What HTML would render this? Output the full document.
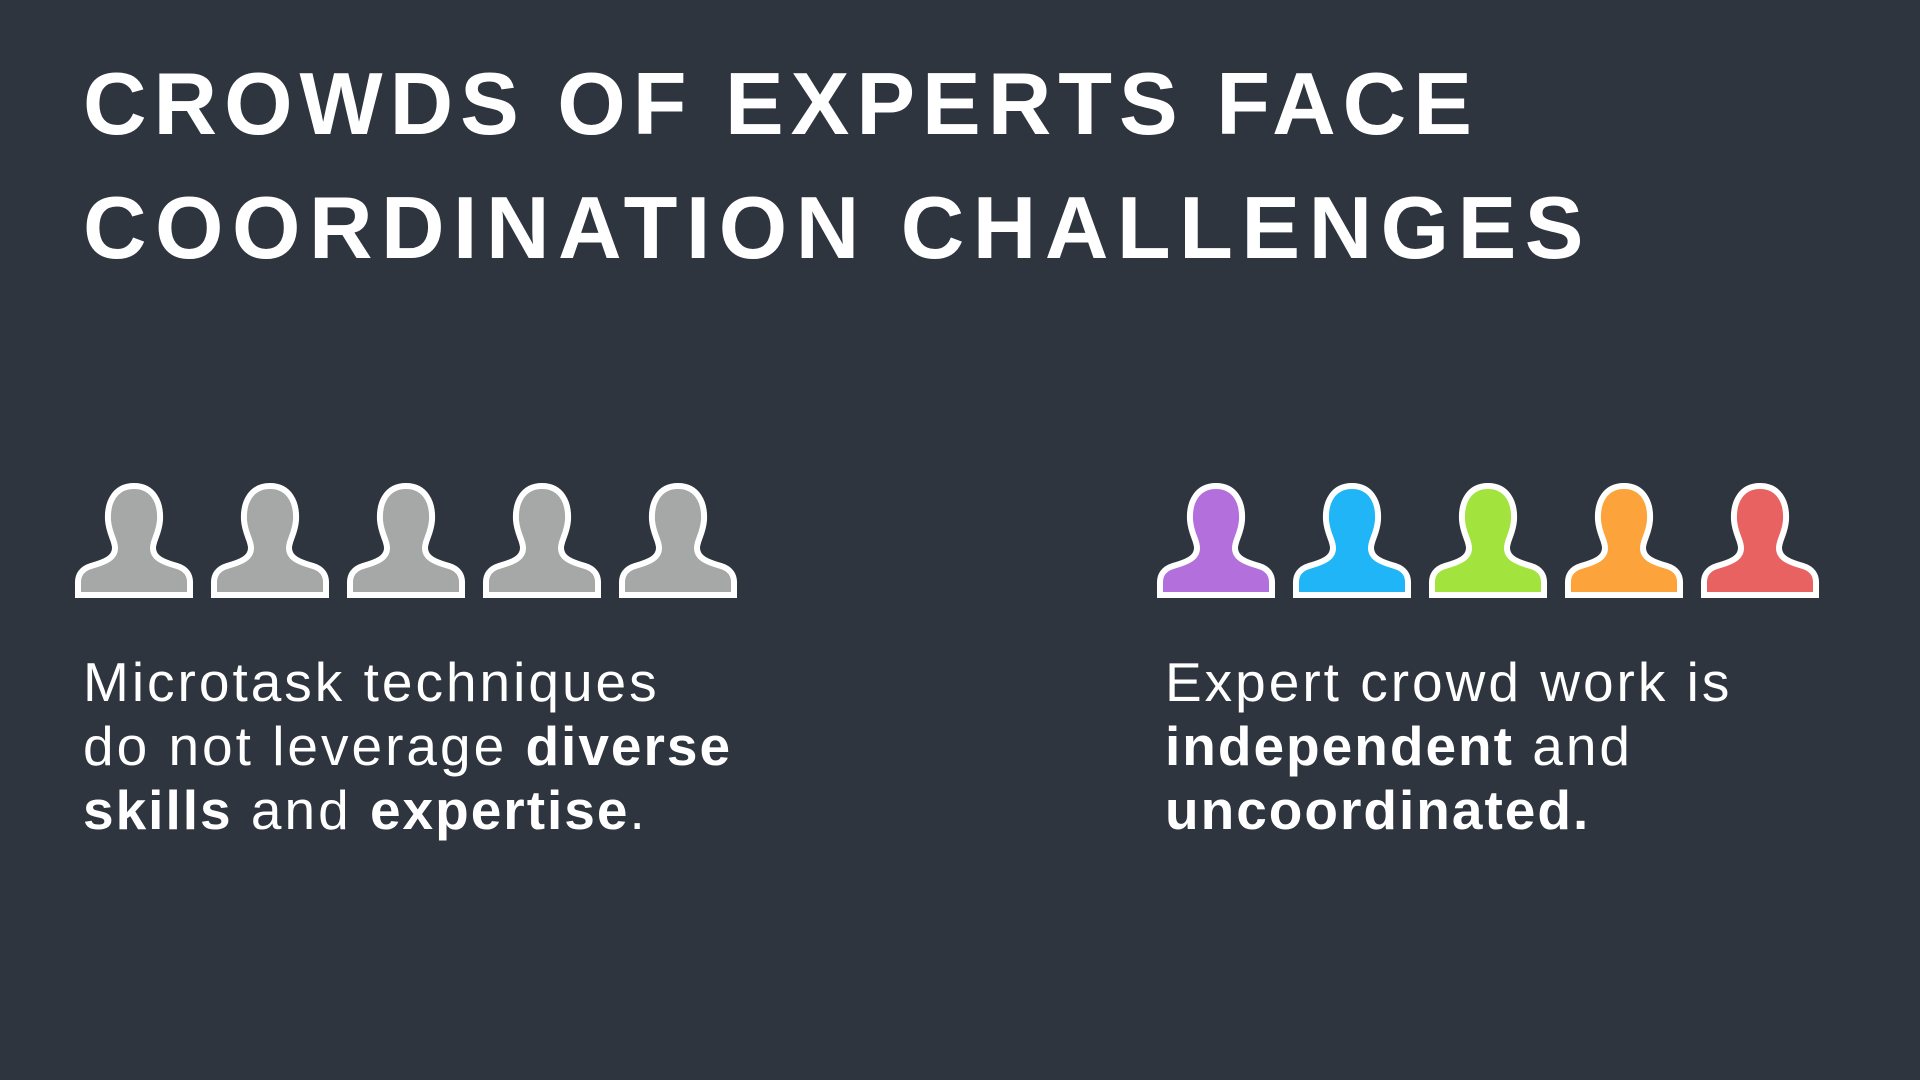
<!DOCTYPE html>
<html><head><meta charset="utf-8"><style>
body{margin:0;width:1920px;height:1080px;background:#2e353e;overflow:hidden;font-family:"Liberation Sans",sans-serif;color:#fff;position:relative}
.title{position:absolute;left:83px;top:42px;font-size:88px;font-weight:bold;line-height:124px;letter-spacing:8px;margin:0}
.txt{position:absolute;top:650px;font-size:55px;line-height:64px;margin:0;font-weight:normal;letter-spacing:3px}
.txt b{font-weight:bold;letter-spacing:2px}
svg{position:absolute;left:0;top:0}
</style></head><body>
<h1 class="title"><span style="letter-spacing:7px">CROWDS OF EXPERTS FACE</span><br><span style="letter-spacing:8.5px">COORDINATION CHALLENGES</span></h1>
<svg id="icons" width="1920" height="1080"></svg>
<p class="txt" style="left:83px">Microtask techniques<br>do not leverage <b>diverse</b><br><b>skills</b> and <b>expertise</b>.</p>
<p class="txt" style="left:1165px">Expert crowd work is<br><b>independent</b> and<br><b>uncoordinated.</b></p>
<script>
const leftColors=["#a5a8a7","#a5a8a7","#a5a8a7","#a5a8a7","#a5a8a7"];
const rightColors=["#b370dc","#1fb5f6","#a3e33d","#fca33b","#e86262"];
const d="M59,4 C40,4 32,20 33,38 C34,52 40,58 40,66 C40,76 30,80 16,84 C6,87 3,94 3,100 L3,113 L115,113 L115,100 C115,94 112,87 102,84 C88,80 78,76 78,66 C78,58 84,52 85,38 C86,20 78,4 59,4 Z";
const svg=document.getElementById('icons');
function draw(colors,x0){
 colors.forEach((c,i)=>{
  const p=document.createElementNS('http://www.w3.org/2000/svg','path');
  p.setAttribute('d',d);
  p.setAttribute('fill',c);
  p.setAttribute('stroke','#fff');
  p.setAttribute('stroke-width','6');
  p.setAttribute('transform',`translate(${x0+i*136},482)`);
  
  
  svg.appendChild(p);
 });
}
draw(leftColors,75);
draw(rightColors,1157);
</script>
</body></html>
